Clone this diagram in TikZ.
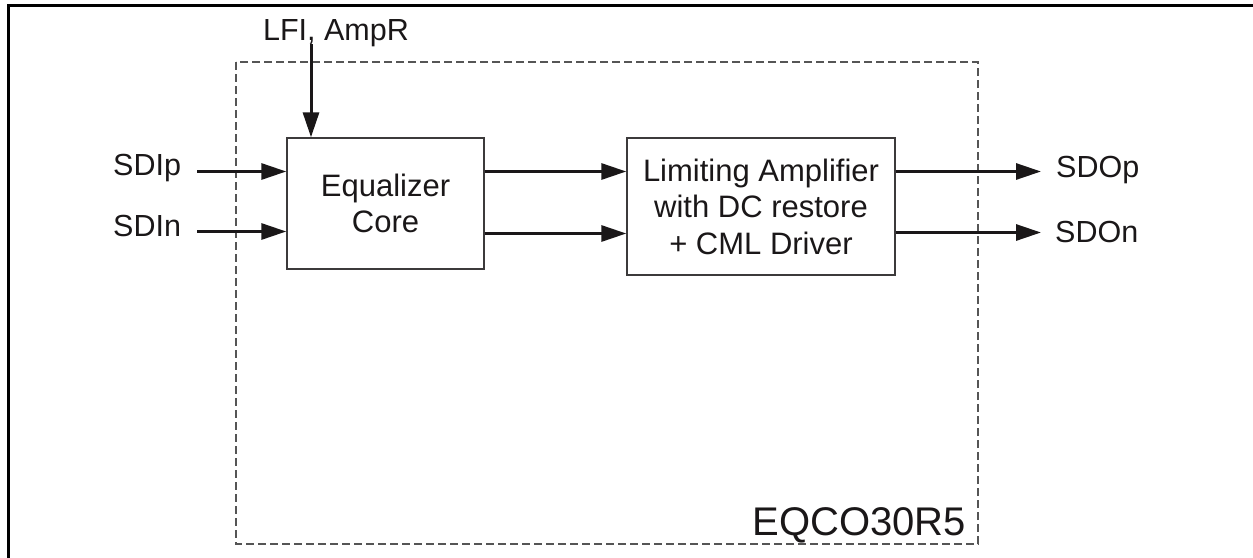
\documentclass[tikz,border=0pt]{standalone}
\usepackage{fontspec}
\setmainfont{Liberation Sans}
\usetikzlibrary{arrows.meta}
\definecolor{ink}{HTML}{1A1718}
\definecolor{dashgray}{HTML}{555555}
\tikzset{
  arr/.style={draw=ink, line width=3pt, -{Triangle[length=25pt,width=16pt]}},
  blockbox/.style={draw=ink!85, line width=1.4pt, inner sep=0pt, align=center, text=ink,
     font=\fontsize{31}{36.5}\selectfont},
  lbl/.style={inner sep=0pt, text=ink, font=\fontsize{30.5}{36}\selectfont},
}
\begin{document}
\begin{tikzpicture}[x=1pt,y=-1pt]
\useasboundingbox (0,0) rectangle (1253,557);
% outer frame (cropped)
\draw[line width=3pt, black] (8.7,560) -- (8.7,5.3) -- (1256,5.3);
% dashed chip outline
\draw[dashgray, line width=1.1pt, dash pattern=on 8pt off 4pt] (236,62) rectangle (978,544);
\node[lbl, anchor=base east, font=\fontsize{40}{48}\selectfont] (chip) at (966,535) {EQCO30R5};
% blocks
\node[blockbox, minimum width=197pt, minimum height=131pt] (eq) at (385.5,203.5) {Equalizer\\Core};
\node[blockbox, minimum width=268pt, minimum height=137pt] (lim) at (761,206.5) {Limiting Amplifier\\with DC restore\\+ CML Driver};
% labels
\node[lbl, anchor=base] (lfi) at (336,40) {LFI, AmpR};
\node[lbl, anchor=base west] (sdip) at (113,175) {SDIp};
\node[lbl, anchor=base west] (sdin) at (113,236) {SDIn};
\node[lbl, anchor=base west] (sdop) at (1056,177) {SDOp};
\node[lbl, anchor=base west] (sdon) at (1055,242) {SDOn};
% connector end points
\coordinate (lfiS) at (311,44);
\coordinate (inP) at (197,171.5);
\coordinate (inN) at (197,231.5);
\coordinate (midP) at (0,171.5);
\coordinate (midN) at (0,233.5);
\coordinate (outP) at (1041,171.5);
\coordinate (outN) at (1041,232.5);
% connectors
\draw[arr] (lfiS) -- (lfiS |- eq.north);
\draw[arr] (inP) -- (inP -| eq.west);
\draw[arr] (inN) -- (inN -| eq.west);
\draw[arr] (eq.east |- midP) -- (lim.west |- midP);
\draw[arr] (eq.east |- midN) -- (lim.west |- midN);
\draw[arr] (outP -| lim.east) -- (outP);
\draw[arr] (outN -| lim.east) -- (outN);
\end{tikzpicture}
\end{document}
